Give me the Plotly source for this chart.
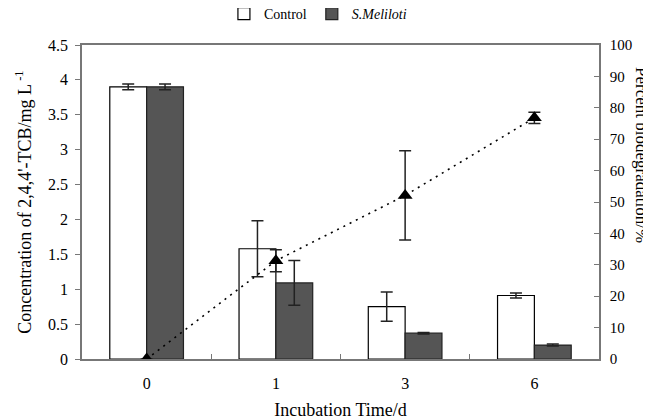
import plotly.graph_objects as go

categories = ["0", "1", "3", "6"]
control = [3.90, 1.58, 0.75, 0.91]
control_err = [0.04, 0.40, 0.21, 0.035]
meliloti = [3.90, 1.09, 0.37, 0.20]
meliloti_err = [0.04, 0.32, 0.01, 0.015]
percent = [0, 31.3, 52.1, 76.8]
percent_err = [0, 3.5, 14.2, 1.8]

FONT = "Liberation Serif"

fig = go.Figure()
fig.add_trace(go.Bar(
    x=categories, y=control, name="Control",
    marker=dict(color="white", line=dict(color="black", width=1.2)),
    error_y=dict(type="data", array=control_err, color="#222", thickness=1.5, width=6),
))
fig.add_trace(go.Bar(
    x=categories, y=meliloti, name="<i>S.Meliloti</i>",
    marker=dict(color="#555555", line=dict(color="#222", width=1.2)),
    error_y=dict(type="data", array=meliloti_err, color="#222", thickness=1.5, width=6),
))
fig.add_trace(go.Scatter(
    x=categories, y=percent, yaxis="y2", mode="lines+markers", showlegend=False,
    line=dict(color="black", width=1.6, dash="2px,5px"),
    marker=dict(symbol="triangle-up", size=13, color="black"),
    error_y=dict(type="data", array=percent_err, color="#222", thickness=1.5, width=6),
))

# page body has an 8px margin: figure is sized/offset to compensate
fig.update_layout(
    width=643, height=412,
    margin=dict(l=74, r=52, t=37, b=61, autoexpand=False),
    paper_bgcolor="white", plot_bgcolor="white",
    font=dict(family=FONT, size=16, color="black"),
    barmode="group", bargap=0.43, bargroupgap=0,
    legend=dict(orientation="h", x=0.482, xref="container", xanchor="center",
                y=1 - 6 / 412, yref="container", yanchor="middle", itemwidth=30,
                font=dict(family=FONT, size=14, color="black"), traceorder="normal"),
    xaxis=dict(
        type="category", showline=True, linecolor="#777", linewidth=1.5, mirror=True,
        ticks="inside", tickson="boundaries", ticklen=5, tickcolor="#777",
        showgrid=False, ticklabelstandoff=9, automargin=False,
        tickfont=dict(family=FONT, size=16),
        title=dict(text="Incubation Time/d", font=dict(family=FONT, size=18), standoff=14),
    ),
    yaxis=dict(
        range=[0, 4.5], dtick=0.5, showline=True, linecolor="#777", linewidth=1.5,
        ticks="outside", ticklen=5, tickcolor="#777", showgrid=False, zeroline=False,
        ticklabelstandoff=4, automargin=False, tickfont=dict(family=FONT, size=16),
        title=dict(text="Concentration of 2,4,4'-TCB/mg L<sup> -1</sup>",
                   font=dict(family=FONT, size=18), standoff=12),
    ),
    yaxis2=dict(
        range=[0, 100], dtick=10, overlaying="y", side="right", showline=True,
        linecolor="#777", linewidth=1.5, ticks="inside", ticklen=5, tickcolor="#777",
        showgrid=False, zeroline=False, ticklabelstandoff=6, automargin=False,
        tickfont=dict(family=FONT, size=15),
    ),
    annotations=[dict(
        text="Percent biodegradation/%", xref="paper", yref="paper",
        x=1.081, y=0.65, textangle=90, showarrow=False,
        font=dict(family=FONT, size=17), xanchor="center", yanchor="middle",
    )],
)

fig.write_html("out.html")
